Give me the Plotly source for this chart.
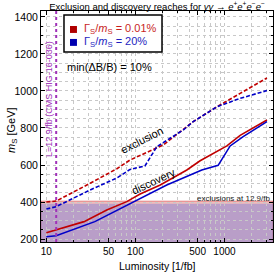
import plotly.graph_objects as go

# ---------------- data ----------------
lumi_red_excl = [10, 12.9, 31, 62, 87, 205, 445, 828, 1500, 3000]
mass_red_excl = [400, 405, 501, 580, 627, 708, 834, 915, 987, 1070]

lumi_blue_excl = [10, 12.9, 31, 62, 87, 128, 174, 344, 445, 828, 1500, 3000]
mass_blue_excl = [362, 375, 465, 530, 576, 595, 699, 789, 834, 915, 960, 1002]

lumi_red_disc = [10, 12.9, 26.5, 47.7, 80, 113, 190, 378, 533, 1064, 1500, 3000]
mass_red_disc = [234, 249, 294, 357, 402, 443, 492, 573, 623, 703, 760, 843]

lumi_blue_disc = [10, 12.9, 35, 87, 113, 225, 557, 849, 1159, 1622, 3000]
mass_blue_disc = [212, 218, 294, 393, 420, 492, 573, 598, 703, 753, 834]

current_lumi = 12.9
excl_limit_red = 405
excl_limit_blue = 390

x_tick_labels = [10, 50, 100, 500, 1000]
x_minor_vals = [10, 20, 30, 40, 50, 60, 70, 80, 90, 100, 200, 300, 400, 500,
                600, 700, 800, 900, 1000, 2000, 3000]
y_tick_labels = [200, 400, 600, 800, 1000, 1200, 1400]
y_minor_vals = list(range(200, 1401, 50))

RED = "#c00000"
BLUE = "#0000c8"
PURPLE = "#a030b8"
FONT = "Liberation Sans, Arial, sans-serif"

fig = go.Figure()

def line(x, y, color, dash):
    fig.add_trace(go.Scatter(x=x, y=y, mode="lines", showlegend=False, hoverinfo="skip",
                             line=dict(color=color, width=1.6, dash=dash)))

line(lumi_red_excl, mass_red_excl, RED, "4px,2px")
line(lumi_blue_excl, mass_blue_excl, BLUE, "4px,2px")
line(lumi_red_disc, mass_red_disc, RED, "solid")
line(lumi_blue_disc, mass_blue_disc, BLUE, "solid")

# exclusion bands
fig.add_shape(type="rect", xref="paper", yref="y", x0=0, x1=1, y0=150, y1=excl_limit_red,
              fillcolor="rgba(200,0,0,0.26)", line=dict(color="rgba(200,0,0,0.35)", width=1),
              layer="below")
fig.add_shape(type="rect", xref="paper", yref="y", x0=0, x1=1, y0=150, y1=excl_limit_blue,
              fillcolor="rgba(40,80,230,0.28)", line=dict(width=0), layer="below")

# current luminosity line
fig.add_shape(type="line", xref="x", yref="paper", x0=current_lumi, x1=current_lumi, y0=0, y1=1,
              line=dict(color=PURPLE, width=2, dash="dot"))

# legend box (manual)
fig.add_shape(type="rect", xref="paper", yref="paper", x0=0.0991, x1=0.5216, y0=0.8225, y1=0.9827,
              fillcolor="white", line=dict(color="black", width=1.5))
fig.add_shape(type="rect", xref="paper", yref="paper", x0=0.125, x1=0.155, y0=0.905, y1=0.935,
              fillcolor="#b00000", line=dict(width=0))
fig.add_shape(type="rect", xref="paper", yref="paper", x0=0.125, x1=0.155, y0=0.849, y1=0.879,
              fillcolor="#0000b0", line=dict(width=0))

ann = []
ann.append(dict(text="Γ<sub>S</sub>/<i>m</i><sub>S</sub> = 0.01%", x=0.177, y=0.92, xref="paper", yref="paper",
                xanchor="left", yanchor="middle", showarrow=False, font=dict(size=11, color="#c81e1e")))
ann.append(dict(text="Γ<sub>S</sub>/<i>m</i><sub>S</sub> = 20%", x=0.177, y=0.864, xref="paper", yref="paper",
                xanchor="left", yanchor="middle", showarrow=False, font=dict(size=11, color="#1e1ec0")))
ann.append(dict(text="min(ΔB/B) = 10%", x=0.1034, y=0.7576, xref="paper", yref="paper",
                xanchor="left", yanchor="middle", showarrow=False, font=dict(size=11, color="black")))
ann.append(dict(text="exclusions at 12.9/fb", x=0.9957, y=0.19, xref="paper", yref="paper",
                xanchor="right", yanchor="middle", showarrow=False, font=dict(size=8, color="#222")))
ann.append(dict(text="L=12.9/fb (CMS HIG-16-036)", x=0.0345, y=0.619, xref="paper", yref="paper",
                xanchor="center", yanchor="middle", textangle=-90, showarrow=False,
                font=dict(size=9, color=PURPLE)))
ann.append(dict(text="exclusion", x=0.435, y=0.4416, xref="paper", yref="paper",
                xanchor="center", yanchor="middle", textangle=-27, showarrow=False,
                font=dict(size=11, color="black")))
ann.append(dict(text="discovery", x=0.487, y=0.264, xref="paper", yref="paper",
                xanchor="center", yanchor="middle", textangle=-25, showarrow=False,
                font=dict(size=11, color="black")))
# axis titles
ann.append(dict(text="Luminosity [1/fb]", x=0.5, y=-0.104, xref="paper", yref="paper",
                xanchor="center", yanchor="middle", showarrow=False, font=dict(size=10.5, color="black")))
ann.append(dict(text="<i>m</i><sub>S</sub> [GeV]", x=-0.125, y=0.485, xref="paper", yref="paper",
                xanchor="center", yanchor="middle", textangle=-90, showarrow=False,
                font=dict(size=11, color="black")))

fig.update_layout(
    width=274, height=276,
    margin=dict(l=41, r=1, t=11, b=34),
    paper_bgcolor="white", plot_bgcolor="white",
    font=dict(family=FONT, size=10, color="black"),
    title=dict(text="Exclusion and discovery reaches for <i>γγ</i> → <i>e</i><sup>+</sup><i>e</i><sup>+</sup><i>e</i><sup>−</sup><i>e</i><sup>−</sup>",
               x=0.5, xref="paper", y=0.976, yref="container", xanchor="center", yanchor="middle",
               font=dict(size=9.5, color="black")),
    annotations=ann,
    showlegend=False,
    hovermode=False,
)

grid = dict(showgrid=True, gridcolor="#c8c8c8", griddash="dot", gridwidth=1)

fig.update_xaxes(type="log", range=[0.94, 3.545],
                 tickvals=x_tick_labels, ticktext=[str(v) for v in x_tick_labels],
                 showline=True, linecolor="black", linewidth=1, mirror="ticks",
                 ticks="inside", ticklen=4, tickcolor="black", zeroline=False,
                 tickfont=dict(size=10),
                 minor=dict(tickmode="array", tickvals=x_minor_vals, ticks="inside", ticklen=2,
                            tickcolor="black", **grid),
                 **grid)
fig.update_yaxes(range=[184, 1432],
                 tickvals=y_tick_labels, ticktext=[str(v) for v in y_tick_labels],
                 showline=True, linecolor="black", linewidth=1, mirror="ticks",
                 ticks="inside", ticklen=4, tickcolor="black", zeroline=False,
                 tickfont=dict(size=10.5),
                 minor=dict(tickmode="array", tickvals=y_minor_vals, ticks="inside", ticklen=2,
                            tickcolor="black", **grid),
                 **grid)

fig.write_html("out.html", config={"displayModeBar": False},
               post_script="document.body.style.margin='0px';document.body.style.overflow='hidden';")
